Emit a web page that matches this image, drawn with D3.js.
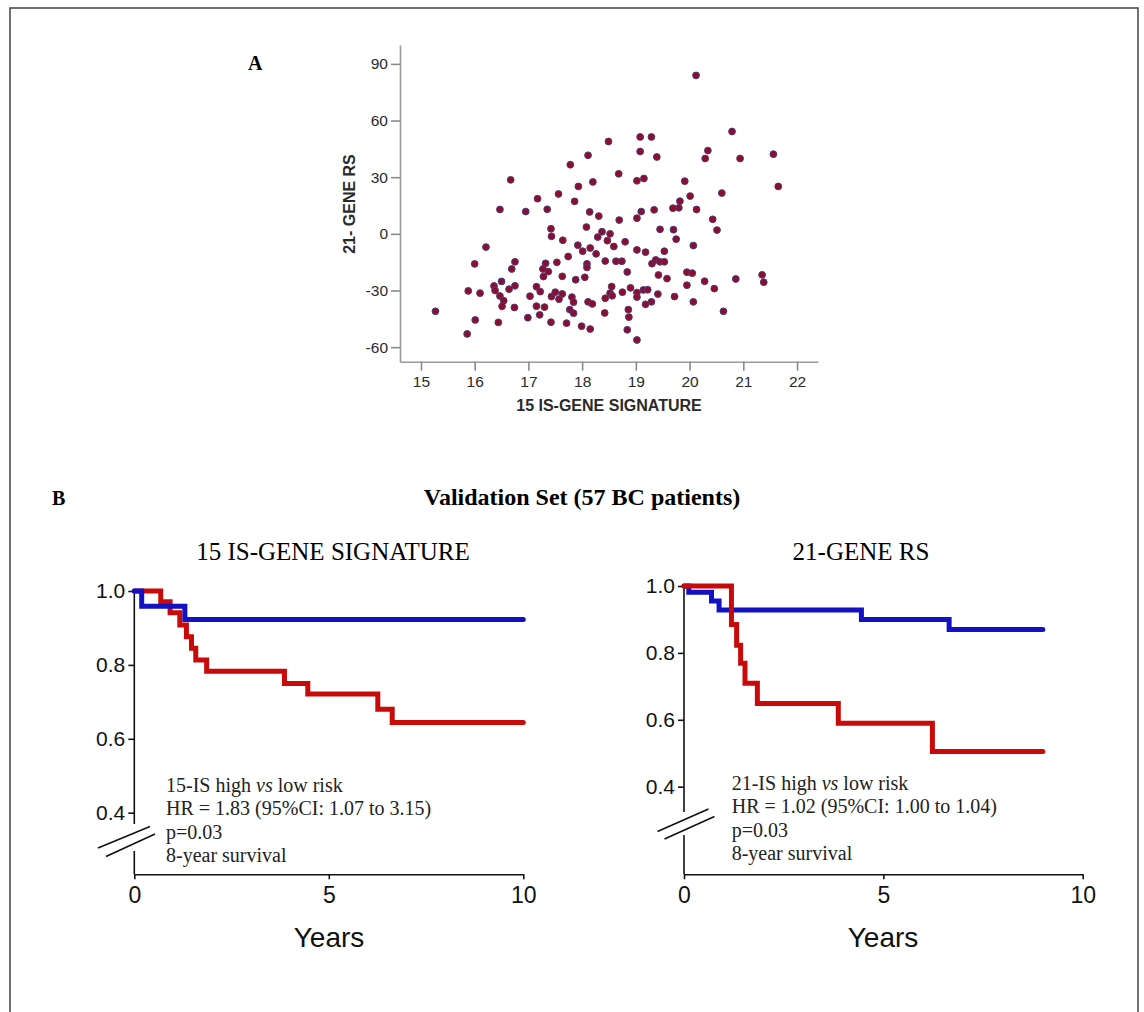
<!DOCTYPE html>
<html>
<head>
<meta charset="utf-8">
<script src="https://cdn.jsdelivr.net/npm/d3@7"></script>
<style>
  html, body { margin: 0; padding: 0; background: #fff; }
  svg { display: block; }
</style>
</head>
<body>
<svg id="fig" width="1144" height="1012"></svg>
<script>
// ---- Panel A: 15 IS-gene signature vs 21-gene recurrence score ----
const isScore = [
  15.27,15.86,15.88,16.00,16.01,16.10,16.21,16.36,16.38,16.44,16.50,16.47,16.54,16.51,16.69,16.75,16.64,16.74,16.75,16.67,
  16.47,16.95,17.17,17.35,17.56,17.78,17.93,17.86,18.11,17.42,18.08,18.14,18.49,18.68,18.20,18.31,18.69,17.43,17.64,18.37,
  18.52,18.29,18.47,17.92,18.15,18.59,18.01,18.80,18.26,19.02,19.18,17.32,17.27,17.37,17.28,17.53,17.74,18.09,18.09,18.05,
  18.43,18.63,18.74,18.84,19.30,19.37,19.45,19.53,19.42,19.58,17.63,17.88,17.15,17.22,17.03,17.43,17.50,17.57,17.63,17.81,
  17.84,17.15,17.30,17.77,17.84,18.11,18.19,18.43,18.55,18.52,18.56,18.75,18.90,19.02,19.02,19.14,19.22,19.18,19.29,19.41,
  18.42,18.86,18.87,18.84,19.02,16.99,17.21,17.42,17.71,17.99,18.15,19.45,19.70,19.75,20.07,20.51,20.43,19.53,19.95,20.05,
  19.95,20.28,20.46,20.86,21.35,21.38,19.72,20.07,20.63,20.12,20.79,19.08,19.29,19.08,19.39,20.34,20.29,20.94,21.56,21.65,
  19.02,19.15,19.91,20.01,20.60,19.82,19.80,19.69,20.13,19.34,19.10,19.02
];
const rsScore = [
  -41.0,-53.0,-30.2,-15.9,-45.6,-31.4,-7.0,-27.6,-30.0,-46.9,-25.2,-32.9,-35.4,-38.4,-18.6,-14.8,-29.3,-39.0,-27.5,28.6,
  12.9,11.8,18.6,13.0,21.1,36.6,25.1,17.2,41.6,2.7,3.6,11.6,48.9,31.8,27.5,9.4,7.3,-1.3,-3.4,1.1,
  0.0,-1.7,-3.6,-6.0,-7.5,-6.7,-9.2,-4.2,-10.6,-8.5,-9.7,-15.6,-18.6,-20.0,-22.6,-15.1,-12.0,-15.9,-17.8,-23.0,
  -14.4,-14.5,-14.5,-20.2,-15.8,-13.8,-14.8,-14.8,-21.8,-23.7,-22.5,-24.3,-28.0,-30.6,-33.0,-33.2,-30.9,-34.6,-31.8,-33.5,
  -36.2,-38.3,-38.8,-40.1,-42.0,-36.0,-37.1,-34.1,-27.9,-31.4,-32.8,-30.9,-28.6,-31.1,-33.5,-29.7,-29.6,-37.3,-36.0,-31.9,
  -41.9,-40.1,-44.1,-50.8,-56.2,-44.4,-42.9,-46.8,-47.3,-48.9,-50.4,2.4,2.2,-2.8,-6.2,2.0,7.7,-9.2,-20.3,-20.8,
  -27.2,-25.1,-29.0,-23.9,-21.7,-25.6,-33.2,-36.0,-41.0,83.9,54.2,51.3,51.3,43.6,40.7,44.1,39.9,39.9,42.2,25.1,
  28.1,29.3,27.9,20.0,21.6,17.3,13.8,13.6,12.9,12.7,11.8,8.3
];
const scatterXTicks = [15, 16, 17, 18, 19, 20, 21, 22];
const scatterYTicks = [-60, -30, 0, 30, 60, 90];

// ---- Panel B: Kaplan-Meier survival, validation set ----
const kmYTicks = [0.4, 0.6, 0.8, 1.0];
const kmXTicks = [0, 5, 10];

// 15 IS-gene signature
const is15HighTime = [0, 0.68, 0.92, 1.17, 1.34, 1.47, 1.58, 1.86, 3.86, 4.46, 6.26, 6.63, 10];
const is15HighSurv = [1, 0.971, 0.941, 0.908, 0.876, 0.845, 0.813, 0.783, 0.750, 0.721, 0.680, 0.644, 0.644];
const is15LowTime  = [0, 0.19, 1.30, 10];
const is15LowSurv  = [1, 0.959, 0.923, 0.923];

// 21-gene recurrence score
const rs21HighTime = [0, 1.19, 1.32, 1.42, 1.53, 1.84, 3.87, 6.23, 9.0];
const rs21HighSurv = [1, 0.885, 0.823, 0.769, 0.709, 0.649, 0.590, 0.505, 0.505];
const rs21LowTime  = [0, 0.12, 0.69, 0.88, 4.45, 6.65, 9.0];
const rs21LowSurv  = [1, 0.981, 0.955, 0.928, 0.900, 0.870, 0.870];

const is15Notes = ["15-IS high |vs| low risk", "HR = 1.83 (95%CI: 1.07 to 3.15)", "p=0.03", "8-year survival"];
const rs21Notes = ["21-IS high |vs| low risk", "HR = 1.02 (95%CI: 1.00 to 1.04)", "p=0.03", "8-year survival"];

const svg = d3.select("#fig");
const SANS = '"Liberation Sans", Arial, sans-serif';
const SERIF = '"Liberation Serif", "Times New Roman", serif';

// outer frame
svg.append("rect").attr("x", 10).attr("y", 8).attr("width", 1128).attr("height", 1030)
  .attr("fill", "none").attr("stroke", "#444").attr("stroke-width", 1.5);

// panel letters
svg.append("text").attr("x", 248).attr("y", 70).attr("font-family", SERIF)
  .attr("font-weight", "bold").attr("font-size", 20).text("A");
svg.append("text").attr("x", 52).attr("y", 505).attr("font-family", SERIF)
  .attr("font-weight", "bold").attr("font-size", 20).text("B");

// ---------- scatter ----------
const sx = d3.scaleLinear().domain([14.61, 22.39]).range([400, 818]);
const sy = d3.scaleLinear().domain([-67.7, 100]).range([361.7, 45]);
const plainNum = d => String(d);

const gx = svg.append("g").attr("transform", "translate(0,361.7)")
  .call(d3.axisBottom(sx).tickValues(scatterXTicks).tickFormat(plainNum).tickSize(9).tickSizeOuter(0).tickPadding(5));
const gy = svg.append("g").attr("transform", "translate(400,0)")
  .call(d3.axisLeft(sy).tickValues(scatterYTicks).tickFormat(plainNum).tickSize(9).tickSizeOuter(0).tickPadding(3));
[gx, gy].forEach(g => {
  g.select(".domain").attr("stroke", "#9a9a9a").attr("stroke-width", 1.6);
  g.selectAll(".tick line").attr("stroke", "#8a8a8a").attr("stroke-width", 1.6);
  g.selectAll(".tick text").attr("font-family", SANS).attr("font-size", 15.5).attr("fill", "#2a2a2a");
});

svg.append("g").selectAll("circle")
  .data(isScore.map((v, i) => [v, rsScore[i]]))
  .join("circle")
  .attr("cx", d => sx(d[0])).attr("cy", d => sy(d[1])).attr("r", 3.4)
  .attr("fill", "#900c2c").attr("stroke", "#4b3b7a").attr("stroke-width", 1);

svg.append("text").attr("x", 609).attr("y", 411).attr("text-anchor", "middle")
  .attr("font-family", SANS).attr("font-weight", "bold").attr("font-size", 16).attr("fill", "#2a2a2a")
  .text("15 IS-GENE SIGNATURE");
svg.append("text").attr("transform", "translate(355,204) rotate(-90)").attr("text-anchor", "middle")
  .attr("font-family", SANS).attr("font-weight", "bold").attr("font-size", 16).attr("fill", "#2a2a2a")
  .text("21- GENE RS");

// ---------- panel B title ----------
svg.append("text").attr("x", 582).attr("y", 505).attr("text-anchor", "middle")
  .attr("font-family", SERIF).attr("font-weight", "bold").attr("font-size", 24)
  .text("Validation Set (57 BC patients)");

// ---------- Kaplan-Meier panels ----------
function kmPanel(cfg) {
  const g = svg.append("g");
  const x = d3.scaleLinear().domain([0, 10]).range([cfg.x0, cfg.x1]);
  const y = d3.scaleLinear().domain([0.4, 1.0]).range([cfg.y04, cfg.y10]);
  const yBase = cfg.yAxisBottom;

  // title
  g.append("text").attr("x", cfg.titleX).attr("y", 560).attr("text-anchor", "middle")
    .attr("font-family", SERIF).attr("font-size", 25).text(cfg.title);

  // x axis
  const ax = g.append("g").attr("transform", `translate(0,${yBase})`)
    .call(d3.axisBottom(x).tickValues(kmXTicks).tickSize(5).tickSizeOuter(0).tickPadding(7));
  ax.select(".domain").attr("stroke", "#111").attr("stroke-width", 1.6);
  ax.selectAll(".tick line").attr("stroke", "#111").attr("stroke-width", 1.6);
  ax.selectAll(".tick text").attr("font-family", SANS).attr("font-size", 23).attr("fill", "#111");

  // y axis (broken near the bottom)
  const ay = g.append("g").attr("transform", `translate(${cfg.x0},0)`)
    .call(d3.axisLeft(y).tickValues(kmYTicks).tickFormat(d3.format(".1f")).tickSize(6).tickPadding(3));
  ay.select(".domain").remove();
  ay.selectAll(".tick line").attr("stroke", "#111").attr("stroke-width", 1.6);
  ay.selectAll(".tick text").attr("font-family", SANS).attr("font-size", 21).attr("fill", "#111");
  g.append("line").attr("x1", cfg.x0).attr("x2", cfg.x0).attr("y1", y(1.0)).attr("y2", cfg.gapTop)
    .attr("stroke", "#111").attr("stroke-width", 1.6);
  g.append("line").attr("x1", cfg.x0).attr("x2", cfg.x0).attr("y1", cfg.gapBottom).attr("y2", yBase)
    .attr("stroke", "#111").attr("stroke-width", 1.6);
  cfg.breakMarks.forEach(b => {
    g.append("line").attr("x1", b[0]).attr("y1", b[1]).attr("x2", b[2]).attr("y2", b[3])
      .attr("stroke", "#111").attr("stroke-width", 1.6);
  });

  const line = d3.line().x(d => x(d[0])).y(d => y(d[1])).curve(d3.curveStepAfter);
  cfg.curves.forEach(c => {
    g.append("path").datum(c.t.map((t, i) => [t, c.s[i]]))
      .attr("d", line).attr("fill", "none").attr("stroke", c.color)
      .attr("stroke-width", 5).attr("stroke-linecap", "round").attr("stroke-linejoin", "miter");
  });

  // annotation
  const note = g.append("text").attr("font-family", SERIF).attr("font-size", 20).attr("fill", "#222");
  cfg.notes.forEach((s, i) => {
    const t = note.append("tspan").attr("x", cfg.noteX).attr("y", cfg.noteY + i * 23.3);
    s.split("|").forEach((part, k) => {
      t.append("tspan").attr("font-style", k === 1 ? "italic" : null).text(part);
    });
  });
}

const RED = "#c80a0a", BLUE = "#1212c4";

kmPanel({
  title: "15 IS-GENE SIGNATURE", titleX: 333,
  x0: 134.3, x1: 523.3, y10: 591, y04: 812.7, yAxisBottom: 874.3,
  gapTop: 824, gapBottom: 851,
  breakMarks: [[98, 848, 150, 826.5], [106, 856.5, 155, 834]],
  curves: [
    { t: is15HighTime, s: is15HighSurv, color: RED },
    { t: is15LowTime, s: is15LowSurv, color: BLUE }
  ],
  notes: is15Notes, noteX: 166, noteY: 792
});

kmPanel({
  title: "21-GENE RS", titleX: 861,
  x0: 684, x1: 1082.7, y10: 586, y04: 786.7, yAxisBottom: 874.3,
  gapTop: 812, gapBottom: 835,
  breakMarks: [[657.5, 831.5, 708.5, 809], [664.5, 839, 714.5, 816.5]],
  curves: [
    { t: rs21LowTime, s: rs21LowSurv, color: BLUE },
    { t: rs21HighTime, s: rs21HighSurv, color: RED }
  ],
  notes: rs21Notes, noteX: 731.7, noteY: 790
});

// axis titles
svg.append("text").attr("x", 329).attr("y", 947).attr("text-anchor", "middle")
  .attr("font-family", SANS).attr("font-size", 28).attr("fill", "#111").text("Years");
svg.append("text").attr("x", 883).attr("y", 947).attr("text-anchor", "middle")
  .attr("font-family", SANS).attr("font-size", 28).attr("fill", "#111").text("Years");
</script>
</body>
</html>
